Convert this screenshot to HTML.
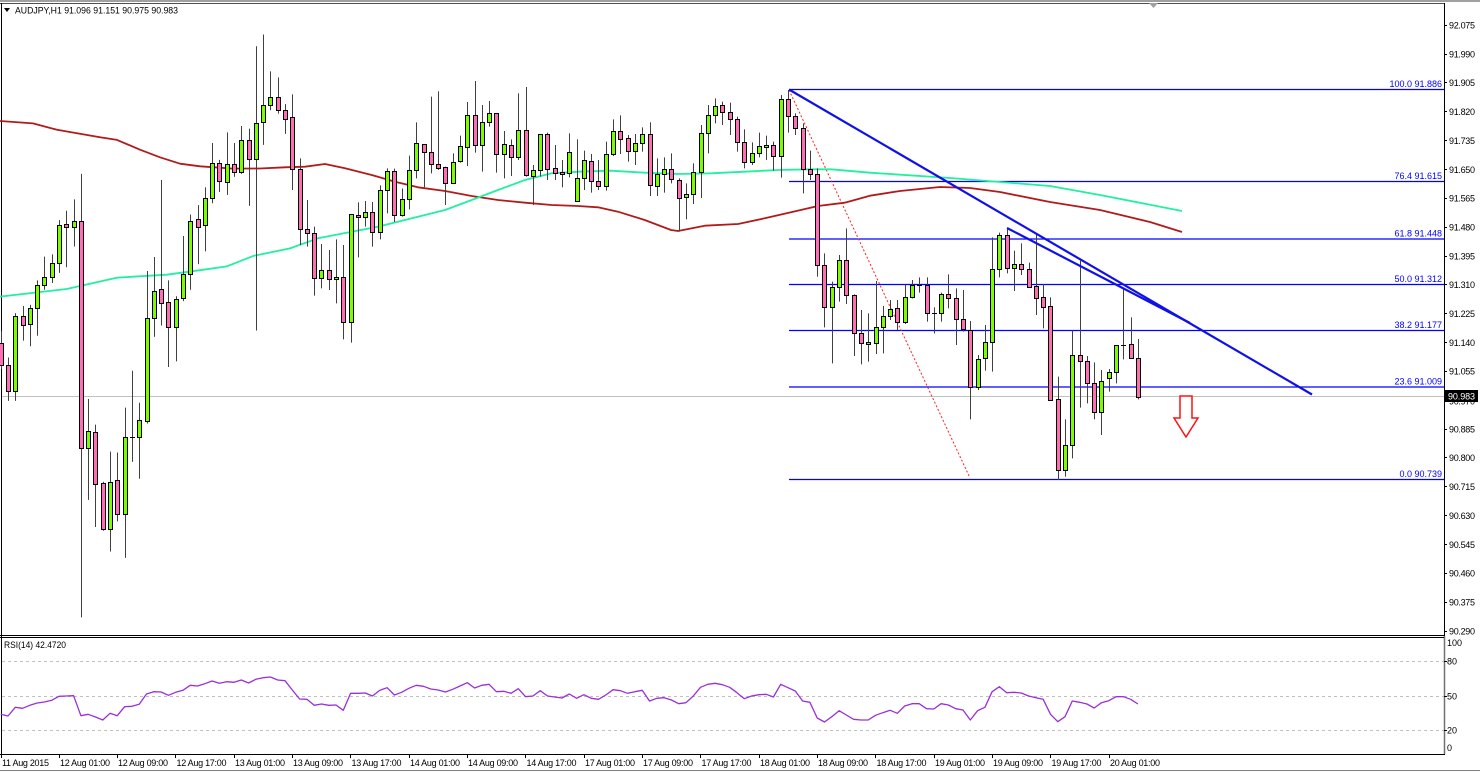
<!DOCTYPE html>
<html><head><meta charset="utf-8"><style>
html,body{margin:0;padding:0;background:#fff;}
svg{display:block;}
text{font-family:"Liberation Sans",sans-serif;font-size:9px;fill:#000;}
.ax text{font-size:9px;}
.fib{fill:#0000ff;font-size:9px;}
</style></head><body>
<svg id="c" width="1480" height="772" viewBox="0 0 1480 772" xmlns="http://www.w3.org/2000/svg">
<rect x="0" y="0" width="1480" height="772" fill="#fff"/>
<!-- top frame -->
<rect x="0" y="0" width="1480" height="2" fill="#a0a0a0"/>
<line x1="0" y1="3.5" x2="1444" y2="3.5" stroke="#505050" stroke-width="1"/>
<line x1="1.5" y1="3" x2="1.5" y2="754" stroke="#000" stroke-width="1"/>
<line x1="1444.5" y1="3" x2="1444.5" y2="636" stroke="#000" stroke-width="1"/>
<line x1="1444.5" y1="636" x2="1444.5" y2="754" stroke="#707070" stroke-width="1.5"/>
<line x1="0" y1="635.5" x2="1444" y2="635.5" stroke="#000" stroke-width="1"/>
<line x1="0" y1="637.5" x2="1444" y2="637.5" stroke="#000" stroke-width="1"/>
<line x1="0" y1="754.5" x2="1445" y2="754.5" stroke="#000" stroke-width="1"/>
<line x1="0" y1="770.5" x2="1480" y2="770.5" stroke="#808080" stroke-width="1"/>
<polygon points="1149,3 1158,3 1153.5,8" fill="#a0a0a0"/>

<!-- current price line -->
<line x1="2" y1="396.5" x2="1444" y2="396.5" stroke="#c0c0c0" stroke-width="1"/>

<!-- RSI levels -->
<g stroke="#c0c0c0" stroke-width="1" stroke-dasharray="3,3">
<line x1="2" y1="661.5" x2="1444" y2="661.5"/>
<line x1="2" y1="696.5" x2="1444" y2="696.5"/>
<line x1="2" y1="730.5" x2="1444" y2="730.5"/>
</g>

<!-- fib lines -->
<g stroke="#0000ff" stroke-width="1.2">
<line x1="789" y1="89.5" x2="1444" y2="89.5"/>
<line x1="789" y1="181.5" x2="1444" y2="181.5"/>
<line x1="789" y1="239" x2="1444" y2="239"/>
<line x1="789" y1="284.5" x2="1444" y2="284.5"/>
<line x1="789" y1="330.5" x2="1444" y2="330.5"/>
<line x1="789" y1="387" x2="1444" y2="387"/>
<line x1="789" y1="479.5" x2="1444" y2="479.5"/>
</g>
<g class="fib" text-anchor="end">
<text class="fib" x="1442" y="87">100.0 91.886</text>
<text class="fib" x="1442" y="179">76.4 91.615</text>
<text class="fib" x="1442" y="236.5">61.8 91.448</text>
<text class="fib" x="1442" y="282">50.0 91.312</text>
<text class="fib" x="1442" y="328">38.2 91.177</text>
<text class="fib" x="1442" y="384.5">23.6 91.009</text>
<text class="fib" x="1442" y="477">0.0 90.739</text>
</g>

<!-- red dotted fib line -->
<line x1="789" y1="90" x2="970" y2="478" stroke="#ff2020" stroke-width="1" stroke-dasharray="2,2"/>

<g id="ma"></g>
<g id="candles"></g>
<g id="rsi"></g>

<!-- trend lines -->
<line x1="789" y1="89.5" x2="1312" y2="394.5" stroke="#1010e8" stroke-width="2.2"/>
<line x1="1007" y1="228" x2="1190" y2="323" stroke="#1010e8" stroke-width="2.2"/>

<!-- arrow -->
<polygon points="1180,396 1192,396 1192,418 1198,418 1186,437 1174,418 1180,418" fill="#fff" stroke="#ff1010" stroke-width="1.5"/>

<!-- header -->
<polygon points="4,8 10,8 7,12" fill="#000"/>
<text x="15" y="13.5" textLength="163" lengthAdjust="spacingAndGlyphs">AUDJPY,H1  91.096 91.151 90.975 90.983</text>
<text x="4" y="648" textLength="62" lengthAdjust="spacingAndGlyphs">RSI(14) 42.4720</text>

<!-- price axis -->
<g class="ax">
<g stroke="#000" stroke-width="1">
<line x1="1444" y1="25.5" x2="1447" y2="25.5"/><line x1="1444" y1="54.5" x2="1447" y2="54.5"/><line x1="1444" y1="82.5" x2="1447" y2="82.5"/><line x1="1444" y1="111.5" x2="1447" y2="111.5"/><line x1="1444" y1="140.5" x2="1447" y2="140.5"/><line x1="1444" y1="169.5" x2="1447" y2="169.5"/><line x1="1444" y1="198.5" x2="1447" y2="198.5"/><line x1="1444" y1="227.5" x2="1447" y2="227.5"/><line x1="1444" y1="256.5" x2="1447" y2="256.5"/><line x1="1444" y1="284.5" x2="1447" y2="284.5"/><line x1="1444" y1="313.5" x2="1447" y2="313.5"/><line x1="1444" y1="342.5" x2="1447" y2="342.5"/><line x1="1444" y1="371.5" x2="1447" y2="371.5"/><line x1="1444" y1="429.5" x2="1447" y2="429.5"/><line x1="1444" y1="457.5" x2="1447" y2="457.5"/><line x1="1444" y1="486.5" x2="1447" y2="486.5"/><line x1="1444" y1="515.5" x2="1447" y2="515.5"/><line x1="1444" y1="544.5" x2="1447" y2="544.5"/><line x1="1444" y1="573.5" x2="1447" y2="573.5"/><line x1="1444" y1="602.5" x2="1447" y2="602.5"/><line x1="1444" y1="631.5" x2="1447" y2="631.5"/>
<line x1="1444" y1="661.5" x2="1447" y2="661.5"/><line x1="1444" y1="696.5" x2="1447" y2="696.5"/><line x1="1444" y1="730.5" x2="1447" y2="730.5"/>
</g>
<text x="1449" y="28.5" textLength="26">92.075</text>
<text x="1449" y="57.5" textLength="26">91.990</text>
<text x="1449" y="86" textLength="26">91.905</text>
<text x="1449" y="115" textLength="26">91.820</text>
<text x="1449" y="144" textLength="26">91.735</text>
<text x="1449" y="173" textLength="26">91.650</text>
<text x="1449" y="201.5" textLength="26">91.565</text>
<text x="1449" y="230.5" textLength="26">91.480</text>
<text x="1449" y="259.5" textLength="26">91.395</text>
<text x="1449" y="288" textLength="26">91.310</text>
<text x="1449" y="317" textLength="26">91.225</text>
<text x="1449" y="346" textLength="26">91.140</text>
<text x="1449" y="374.5" textLength="26">91.055</text>
<text x="1449" y="404.5" textLength="26">90.970</text>
<text x="1449" y="432.5" textLength="26">90.885</text>
<text x="1449" y="461" textLength="26">90.800</text>
<text x="1449" y="490" textLength="26">90.715</text>
<text x="1449" y="519" textLength="26">90.630</text>
<text x="1449" y="548" textLength="26">90.545</text>
<text x="1449" y="576.5" textLength="26">90.460</text>
<text x="1449" y="605.5" textLength="26">90.375</text>
<text x="1449" y="634.5" textLength="26">90.290</text>
<rect x="1445" y="390" width="33" height="12" fill="#000"/>
<text x="1448" y="399.5" textLength="27" style="fill:#fff">90.983</text>
<text x="1447" y="646">100</text>
<text x="1447" y="664.5">80</text>
<text x="1447" y="699.5">50</text>
<text x="1447" y="733.5">20</text>
<text x="1447" y="751">0</text>
</g>

<!-- time axis -->
<g stroke="#000" stroke-width="1">
<line x1="1.5" y1="754" x2="1.5" y2="758"/><line x1="59.5" y1="754" x2="59.5" y2="758"/><line x1="117.5" y1="754" x2="117.5" y2="758"/><line x1="175.5" y1="754" x2="175.5" y2="758"/><line x1="234.5" y1="754" x2="234.5" y2="758"/><line x1="292.5" y1="754" x2="292.5" y2="758"/><line x1="350.5" y1="754" x2="350.5" y2="758"/><line x1="409.5" y1="754" x2="409.5" y2="758"/><line x1="467.5" y1="754" x2="467.5" y2="758"/><line x1="525.5" y1="754" x2="525.5" y2="758"/><line x1="584.5" y1="754" x2="584.5" y2="758"/><line x1="642.5" y1="754" x2="642.5" y2="758"/><line x1="700.5" y1="754" x2="700.5" y2="758"/><line x1="759.5" y1="754" x2="759.5" y2="758"/><line x1="817.5" y1="754" x2="817.5" y2="758"/><line x1="875.5" y1="754" x2="875.5" y2="758"/><line x1="934.5" y1="754" x2="934.5" y2="758"/><line x1="992.5" y1="754" x2="992.5" y2="758"/><line x1="1050.5" y1="754" x2="1050.5" y2="758"/><line x1="1109.5" y1="754" x2="1109.5" y2="758"/>
</g>
<g>
<text x="2" y="766" textLength="47">11 Aug 2015</text>
<text x="60" y="766" textLength="50">12 Aug 01:00</text>
<text x="118" y="766" textLength="50">12 Aug 09:00</text>
<text x="176.5" y="766" textLength="50">12 Aug 17:00</text>
<text x="235" y="766" textLength="50">13 Aug 01:00</text>
<text x="293" y="766" textLength="50">13 Aug 09:00</text>
<text x="351.5" y="766" textLength="50">13 Aug 17:00</text>
<text x="410" y="766" textLength="50">14 Aug 01:00</text>
<text x="468" y="766" textLength="50">14 Aug 09:00</text>
<text x="526.5" y="766" textLength="50">14 Aug 17:00</text>
<text x="585" y="766" textLength="50">17 Aug 01:00</text>
<text x="643" y="766" textLength="50">17 Aug 09:00</text>
<text x="701.5" y="766" textLength="50">17 Aug 17:00</text>
<text x="760" y="766" textLength="50">18 Aug 01:00</text>
<text x="818" y="766" textLength="50">18 Aug 09:00</text>
<text x="876.5" y="766" textLength="50">18 Aug 17:00</text>
<text x="935" y="766" textLength="50">19 Aug 01:00</text>
<text x="993" y="766" textLength="50">19 Aug 09:00</text>
<text x="1051.5" y="766" textLength="50">19 Aug 17:00</text>
<text x="1110" y="766" textLength="50">20 Aug 01:00</text>
</g>
</svg>
<script>
(function(){
var NS="http://www.w3.org/2000/svg";
function el(n,a,p){var e=document.createElementNS(NS,n);for(var k in a)e.setAttribute(k,a[k]);p.appendChild(e);return e;}
function cx(i){return Math.round(0.7+7.29*i);}
var segs=[
{o:30,k:2.656,s:0,d:[
[830,890,800,900,'p'],[890,958,870,985,'p'],[760,958,752,985,'g'],[760,783,733,825,'p'],[738,780,730,840,'g'],
[676,738,665,812,'g'],[657,676,602,690,'g'],[618,657,596,672,'g'],[517,618,505,645,'g'],[516,522,480,630,'p'],
[508,522,450,575,'g'],[508,1110,382,1560,'p'],[1065,1110,980,1248,'g'],[1067,1205,1048,1320,'p'],[1203,1325,1200,1330,'p'],
[1200,1325,1120,1385,'g'],[1196,1285,1122,1305,'p'],[1080,1285,1003,1402,'g'],[1080,1080,905,1147,'d'],[1035,1080,990,1192,'g'],
[766,1038,640,1045,'g'],[692,766,603,815,'g'],[689,724,398,785,'p'],[723,790,665,895,'p'],[715,790,707,880,'g'],
[647,713,547,720,'g'],[506,647,490,690,'g'],[503,522,465,622,'p'],[445,519,418,588,'g'],[353,445,300,460,'g'],
[352,400,345,430,'p'],[355,405,272,438,'g'],[355,378,300,390,'p'],[292,378,255,382,'g'],[291,343,262,467,'p'],
[246,343,43,798,'g'],[198,244,12,305,'g'],[178,198,110,213,'g'],[178,213,126,222,'p'],[212,236,197,276,'p']]},
{o:70,k:3,s:40,d:[
[142,298,73,360,'p'],[297,478,265,525,'p'],[478,490,390,530,'p'],[490,625,470,677,'p'],[600,625,522,655,'g'],
[600,628,540,660,'p'],[622,628,508,700,'g'],[620,757,525,808,'p'],[433,757,433,818,'g'],[436,441,397,562,'p'],
[427,441,393,470,'g'],[427,487,396,530,'p'],[361,487,346,508,'g'],[303,361,295,430,'g'],[303,436,296,456,'p'],
[388,436,355,440,'g'],[300,388,257,418,'g'],[219,300,157,325,'g'],[222,247,222,352,'p'],[246,281,80,310,'p'],
[281,295,64,300,'p'],[292,340,290,405,'p'],[276,338,250,338,'g'],[229,274,197,278,'g'],[134,232,96,288,'g'],
[134,225,33,248,'p'],[155,225,105,305,'g'],[130,155,93,170,'g'],[130,253,130,308,'p'],[222,253,183,325,'g'],
[225,260,208,318,'p'],[181,260,70,270,'g'],[181,315,51,320,'p'],[300,317,285,405,'g'],[193,300,193,320,'g'],
[193,297,188,330,'p'],[295,310,225,330,'p'],[305,313,270,352,'p'],[247,310,190,322,'g'],[325,393,208,395,'g']]},
{o:80,k:3,s:80,d:[
[240,295,212,330,'g'],[243,303,222,338,'p'],[302,317,240,330,'p'],[222,317,185,332,'g'],[154,222,118,228,'g'],
[154,176,106,222,'p'],[175,213,165,245,'p'],[190,213,162,255,'g'],[161,190,142,215,'g'],[161,316,127,348,'p'],
[283,318,235,348,'g'],[268,283,232,338,'g'],[268,298,220,310,'p'],[300,355,295,455,'p'],[343,352,310,418,'g'],
[277,343,250,372,'g'],[160,277,135,354,'g'],[104,160,75,220,'g'],[77,105,55,130,'g'],[76,95,65,135,'p'],
[95,117,68,165,'p'],[117,185,110,215,'p'],[185,245,148,265,'p'],[218,245,187,255,'g'],[198,218,158,232,'g'],
[195,200,167,240,'g'],[196,228,185,272,'p'],[58,228,45,293,'g'],[58,107,30,158,'p'],[107,145,100,165,'p'],
[145,268,130,340,'p'],[268,282,212,300,'p'],[282,556,265,590,'p'],[556,680,520,742,'p'],[620,680,605,850,'g'],
[541,620,525,665,'g'],[541,646,445,672,'p'],[646,760,643,828,'p'],[760,790,690,853,'p'],[787,793,700,845,'g']]},
{o:220,k:3,s:120,d:[
[320,368,183,402,'g'],[288,320,258,400,'g'],[266,288,240,300,'g'],[265,305,240,330,'p'],[232,305,193,312,'g'],
[195,230,180,235,'g'],[195,197,172,218,'d'],[195,278,172,305,'p'],[279,279,262,340,'d'],[222,278,218,305,'g'],
[222,235,163,265,'p'],[235,298,205,375,'p'],[298,328,210,335,'p'],[330,502,303,598,'p'],[417,502,405,510,'g'],
[365,415,315,452,'g'],[148,365,52,455,'g'],[46,148,38,172,'g'],[46,145,28,160,'p'],[132,145,92,213,'g'],
[132,148,70,165,'p'],[148,200,128,203,'p'],[198,233,40,285,'p'],[230,260,192,325,'p'],[258,540,232,540,'p'],
[538,750,470,780,'p'],[676,750,598,770,'g'],[406,676,332,715,'g'],[406,422,122,563,'p'],[422,490,408,550,'p'],
[488,575,427,598,'p'],[482,575,450,645,'g'],[455,475,447,515,'g'],[376,455,376,490,'g'],[374,374,205,418,'d'],
[373,415,292,415,'p'],[415,530,357,538,'p']]}
];
var g=document.getElementById('candles');
segs.forEach(function(s){
 s.d.forEach(function(c,j){
  var i=s.s+j,x=cx(i);
  var t=s.o+c[0]/s.k,b=s.o+c[1]/s.k,h=s.o+c[2]/s.k,l=s.o+c[3]/s.k;
  el('line',{x1:x+0.5,y1:h,x2:x+0.5,y2:l,stroke:'#404040','stroke-width':1},g);
  if(c[4]=='d'||b-t<1.2){
   el('line',{x1:x-2,y1:Math.round(t)+0.5,x2:x+3,y2:Math.round(t)+0.5,stroke:'#000','stroke-width':1},g);
  } else {
   el('rect',{x:x-1.5,y:Math.round(t)+0.5,width:4,height:Math.max(1,Math.round(b)-Math.round(t)),fill:c[4]=='g'?'#7cfc00':'#ff6eb4',stroke:'#000','stroke-width':1},g);
  }
 });
});
// MAs
var ma=document.getElementById('ma');
var red=[[0,121],[33,123.4],[57,129.8],[100,137.3],[117,139.9],[140,149.7],[160,157.3],[180,163.7],[200,166.3],[233,168.6],[260,168.5],[285,167.3],[305,166.7],[325,164],[345,168.3],[371.7,175],[395,181.7],[418,187.3],[445,191],[471.7,196],[498,200],[525,202.7],[551.7,205],[578,206],[598,207.3],[618,211.7],[644.7,220],[671,230],[678,231],[704.7,225.7],[738,224],[764.7,218.3],[791,212.3],[818,206],[844.7,202.7],[870,195.7],[900,191],[940,187],[970,188],[1000,192],[1050,202],[1100,210],[1150,222],[1182,232]];
var aq=[[0,296.6],[66.7,289],[116.7,277.7],[166.7,274.7],[200,270.2],[226.7,266.4],[253.3,255.9],[290,248.4],[318,238.3],[351.7,231.7],[378,226.7],[418,216.7],[445,210],[471.7,200],[498,190],[525,180],[551.7,173.3],[578,171.7],[611,170.7],[644.7,172.7],[678,174],[711,173.3],[744.7,171.7],[778,170],[811,169.3],[831,169.3],[870,172.7],[950,178],[1000,182],[1050,186],[1100,195],[1182,211]];
function pl(a){return a.map(function(p){return p[0]+','+p[1];}).join(' ');}
el('polyline',{points:pl(red),fill:'none',stroke:'#b01c1c','stroke-width':1.8,'stroke-linejoin':'round'},ma);
el('polyline',{points:pl(aq),fill:'none',stroke:'#20f0a0','stroke-width':1.8,'stroke-linejoin':'round'},ma);
// RSI
var r4=[283,288,262,265,256,249,246,241,229,228,227,287,283,291,300,280,287,260,259,253,222,215,216,226,217,211,196,198,191,183,190,185,187,180,189,178,173,171,180,182,210,237,238,256,252,256,255,271,220,220,219,228,211,203,225,217,205,196,199,207,210,216,208,198,188,204,196,193,215,214];
var r5=[220,206,230,228,212,228,231,234,222,235,224,235,238,225,209,212,220,215,211,243,235,233,240,251,248,228,202,193,190,194,202,218,236,228,224,223,231,193,203,213,243,247,294,306,290,272,285,298,300,300,286,278,271,280,258,251,251,266,267,251,255,266,270,300,272,262,215];
var r6=[200,218,217,219,228,233,238,283,305,290,243,247,252,264,248,242,230,230,238,252];
var rr=r4.concat(r5,r6),pts=[];
for(var i=0;i<rr.length;i++){pts.push((0.7+7.29*i).toFixed(1)+','+(620+rr[i]/3).toFixed(1));}
el('polyline',{points:pts.join(' '),fill:'none',stroke:'#9a30d8','stroke-width':1.3,'stroke-linejoin':'round'},document.getElementById('rsi'));
})();
</script>
</body></html>
